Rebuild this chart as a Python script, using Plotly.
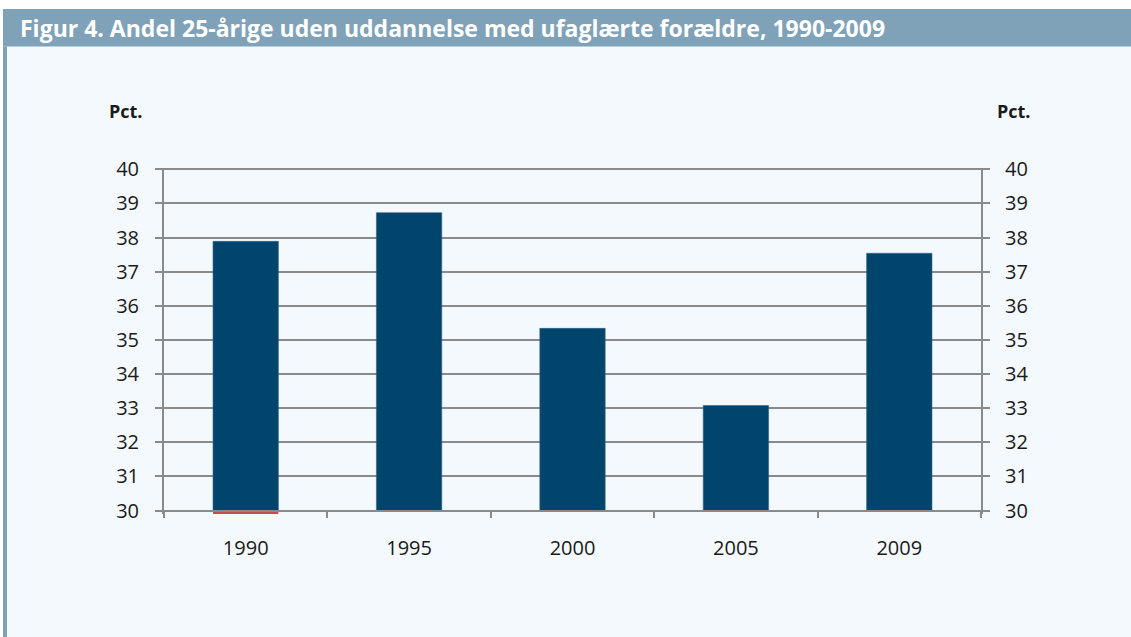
import plotly.graph_objects as go

# ---- data ----
years = ["1990", "1995", "2000", "2005", "2009"]
share = [37.89, 38.73, 35.34, 33.08, 37.54]
red_marker = [-0.1, None, None, None, None]
y_ticks = [30, 31, 32, 33, 34, 35, 36, 37, 38, 39, 40]

W, H = 1131, 637
ML, MR, MT, MB = 164, 150, 168, 123
Y0, Y1 = 29.9, 40.04

def px(x):
    return (x - ML) / (W - ML - MR)

def py(y):
    return (H - MB - y) / (H - MT - MB)

BAR = "#01456D"
GRAY = "#8A8A8A"
BAND = "#7FA2B8"
PANEL = "#F4F9FD"
FONT = "Open Sans"

fig = go.Figure()
fig.add_trace(go.Bar(
    x=years, y=[v - 30 for v in share], base=30,
    marker=dict(color=BAR, line=dict(color="#2F6487", width=0.6)),
    width=0.4, showlegend=False, hoverinfo="skip",
))
fig.add_trace(go.Bar(
    x=years, y=red_marker, base=30,
    marker=dict(color="#C0504D", line=dict(width=0)),
    width=0.4, showlegend=False, hoverinfo="skip",
))
fig.add_trace(go.Scatter(
    x=years, y=share, yaxis="y2", mode="markers",
    marker=dict(opacity=0), showlegend=False, hoverinfo="skip",
))

axis_font = dict(family=FONT, size=20, color="#1A1A1A")

fig.update_layout(
    width=W, height=H,
    margin=dict(l=ML, r=MR, t=MT, b=MB),
    paper_bgcolor=PANEL, plot_bgcolor=PANEL,
    barmode="overlay",
    xaxis=dict(
        type="category", tickson="boundaries", ticks="outside", ticklen=6,
        tickwidth=2, tickcolor=GRAY, showline=True, linecolor=GRAY, linewidth=2,
        anchor="free", position=(30 - Y0) / (Y1 - Y0),
        showgrid=False, tickfont=axis_font, ticklabelstandoff=19,
        layer="above traces",
    ),
    yaxis=dict(
        range=[Y0, Y1], tickvals=y_ticks, ticks="outside", ticklen=7,
        tickwidth=2, tickcolor=GRAY, showline=True, linecolor=GRAY, linewidth=2,
        showgrid=True, gridcolor=GRAY, gridwidth=2, zeroline=False,
        tickfont=axis_font, ticklabelstandoff=12,
    ),
    yaxis2=dict(
        range=[Y0, Y1], tickvals=y_ticks, ticks="outside", ticklen=7,
        tickwidth=2, tickcolor=GRAY, showline=True, linecolor=GRAY, linewidth=2,
        showgrid=False, zeroline=False, overlaying="y", side="right",
        tickfont=axis_font, ticklabelstandoff=11,
    ),
    shapes=[
        dict(type="rect", xref="paper", yref="paper", x0=px(0), x1=px(W), y0=py(0), y1=py(9),
             fillcolor="white", line=dict(width=0), layer="below"),
        dict(type="rect", xref="paper", yref="paper", x0=px(0), x1=px(3), y0=py(0), y1=py(H),
             fillcolor="white", line=dict(width=0), layer="below"),
        dict(type="rect", xref="paper", yref="paper", x0=px(3), x1=px(W), y0=py(9), y1=py(46.5),
             fillcolor=BAND, line=dict(width=0), layer="below"),
        dict(type="rect", xref="paper", yref="paper", x0=px(3), x1=px(7), y0=py(46.5), y1=py(H),
             fillcolor=BAND, line=dict(width=0), layer="below"),
    ],
    annotations=[
        dict(text="<b>Figur 4. Andel 25-årige uden uddannelse med ufaglærte forældre, 1990-2009</b>",
             xref="paper", yref="paper", x=px(18), y=py(28), xanchor="left", yanchor="middle",
             showarrow=False, font=dict(family="Open Sans", size=23, color="white")),
        dict(text="<b>Pct.</b>", xref="paper", yref="paper", x=px(126), y=py(111),
             xanchor="center", yanchor="middle", showarrow=False,
             font=dict(family=FONT, size=18, color="#1A1A1A")),
        dict(text="<b>Pct.</b>", xref="paper", yref="paper", x=px(1013.5), y=py(111),
             xanchor="center", yanchor="middle", showarrow=False,
             font=dict(family=FONT, size=18, color="#1A1A1A")),
    ],
)

fig.write_html("out.html", config={"displayModeBar": False},
               post_script="document.body.style.margin='0';")
